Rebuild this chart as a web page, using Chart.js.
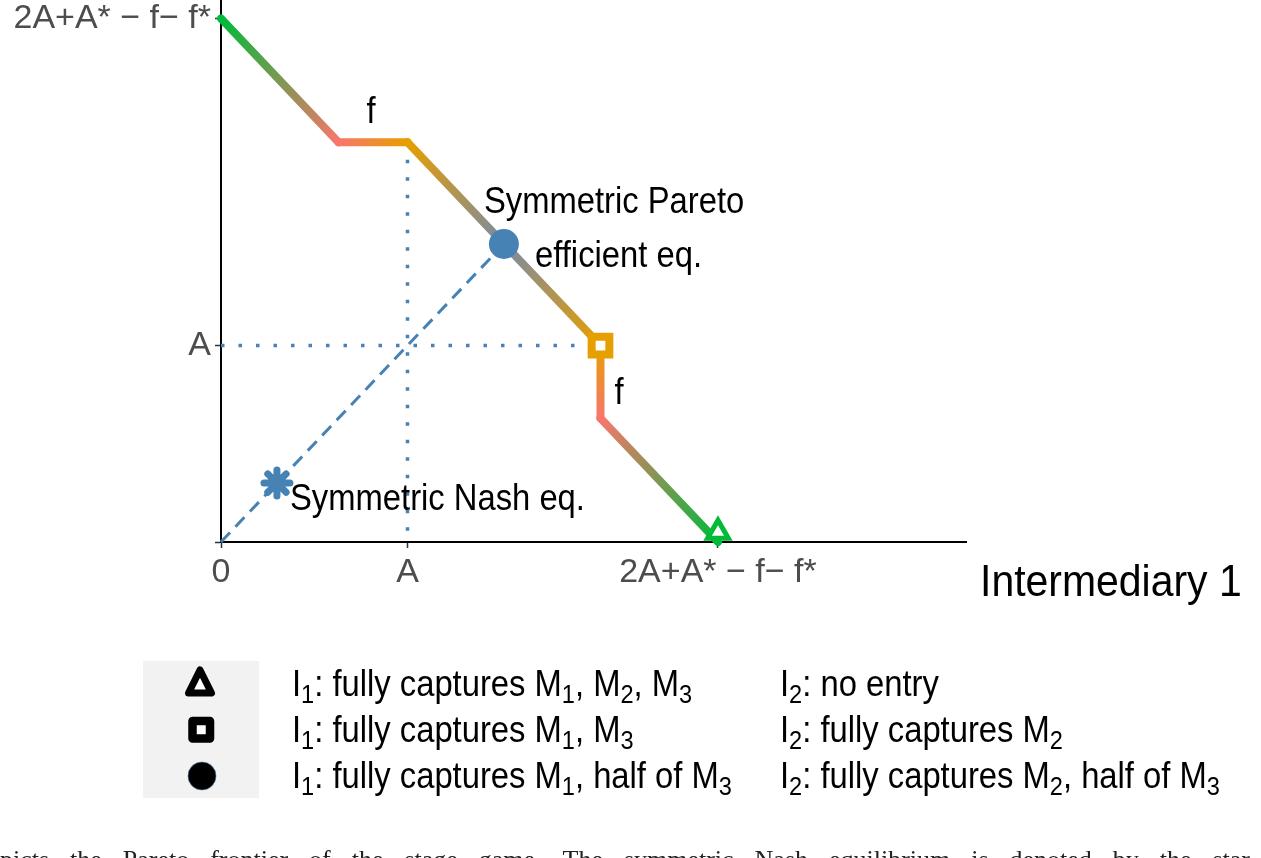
<!DOCTYPE html>
<html>
<head>
<meta charset="utf-8">
<script src="https://cdn.jsdelivr.net/npm/chart.js@4"></script>
<style>
  html, body { margin: 0; padding: 0; background: #fff; overflow: hidden; }
  canvas { display: block; }
</style>
</head>
<body>
<canvas id="chart" width="1261" height="858"></canvas>
<script>
// all values are in units of A
const frontierX = [0, 0.63, 1, 2.035, 2.035, 2.665];
const frontierY = [2.665, 2.035, 2.035, 1, 0.63, 0];
const paretoEq = [{ x: 1.517, y: 1.517 }];
const nashEq = [{ x: 0.30, y: 0.30 }];
const cornerSquare = [{ x: 2.035, y: 1 }];
const cornerTriangle = [{ x: 2.665, y: 0.05 }];
const guideVX = [1, 1];
const guideVY = [2.035, 0];
const guideHX = [0, 2.035];
const guideHY = [1, 1];
const diagX = [0, 1.517];
const diagY = [0, 1.517];
const xTickValues = [0, 1, 2.665];
const xTickLabels = ["0", "A", "2A+A* \u2212 f\u2212 f*"];
const yTickValues = [0, 1, 2.665];
const yTickLabels = ["", "A", "2A+A* \u2212 f\u2212 f*"];
const legendLeft = [
  "I_1: fully captures M_1, M_2, M_3",
  "I_1: fully captures M_1, M_3",
  "I_1: fully captures M_1, half of M_3"
];
const legendRight = [
  "I_2: no entry",
  "I_2: fully captures M_2",
  "I_2: fully captures M_2, half of M_3"
];
const captionText = "depicts the Pareto frontier of the stage game. The symmetric Nash equilibrium is denoted by the star";

// colour stops along each piece of the frontier
const segColors = [
  ["#00BA38", "#F8766D"],
  ["#F8766D", "#E69F00"],
  ["#E69F00", "#7A8AA6", "#E69F00"],
  ["#E69F00", "#F8766D"],
  ["#F8766D", "#00BA38"]
];

const FONT = "'Liberation Sans', Arial, Helvetica, sans-serif";
const SQ = 0.91; // text in the figure is a bit narrower than Arial
const BLUE = "#4682B4";

const zip = (xs, ys) => xs.map((x, i) => ({ x: x, y: ys[i] }));

const canvas = document.getElementById("chart");
const ctx = canvas.getContext("2d");

function squashText(c, str, x, y, size, color, align) {
  c.save();
  c.font = size + "px " + FONT;
  c.fillStyle = color || "#000";
  c.textBaseline = "alphabetic";
  let w = c.measureText(str).width * SQ;
  let left = align === "center" ? x - w / 2 : x;
  c.translate(left, y);
  c.scale(SQ, 1);
  c.textAlign = "left";
  c.fillText(str, 0, 0);
  c.restore();
  return w;
}

// text with _n subscripts
function richText(c, str, x, y, size) {
  let parts = str.split(/(_\d)/);
  let cx = x;
  parts.forEach(p => {
    if (!p) return;
    if (p[0] === "_") {
      cx += squashText(c, p.slice(1), cx, y + size * 0.2, size * 0.72);
    } else {
      cx += squashText(c, p, cx, y, size);
    }
  });
}

const notes = [
  { text: "f", x: 0.804, y: 2.2, align: "center" },
  { text: "f", x: 2.134, y: 0.766, align: "center" },
  { text: "Symmetric Pareto", x: 1.41, y: 1.742, align: "left" },
  { text: "efficient eq.", x: 1.684, y: 1.463, align: "left" },
  { text: "Symmetric Nash eq.", x: 0.37, y: 0.231, align: "left" }
];

const extras = {
  id: "extras",
  beforeDatasetDraw(chart, args) {
    // round ends for the star spokes
    if (args.index === 1) chart.ctx.lineCap = "round";
  },
  afterDatasetDraw(chart, args) {
    if (args.index === 1) chart.ctx.lineCap = "butt";
  },
  afterDraw(chart) {
    const c = chart.ctx;
    const xs = chart.scales.x, ys = chart.scales.y;
    const size = 36, cap = size * 0.716;

    notes.forEach(n => {
      squashText(c, n.text, xs.getPixelForValue(n.x), ys.getPixelForValue(n.y) + cap / 2, size, "#000", n.align);
    });

    // axis title sits to the right of the x axis
    squashText(c, "Intermediary 1", 980, 596, 45, "#000", "left");

    // legend box
    c.save();
    c.fillStyle = "#F2F2F2";
    c.fillRect(143, 661, 116, 137);
    c.lineJoin = "round";
    // triangle
    c.beginPath();
    c.moveTo(200, 670);
    c.lineTo(211.5, 693);
    c.lineTo(188.5, 693);
    c.closePath();
    c.fillStyle = "#fff";
    c.fill();
    c.strokeStyle = "#000";
    c.lineWidth = 7;
    c.stroke();
    // square
    c.beginPath();
    c.rect(192.5, 721, 17.5, 17.5);
    c.fillStyle = "#fff";
    c.fill();
    c.lineWidth = 8.5;
    c.stroke();
    // circle
    c.beginPath();
    c.arc(202, 776, 14, 0, Math.PI * 2);
    c.fillStyle = "#000";
    c.fill();
    c.lineWidth = 1;
    c.strokeStyle = "rgba(70,130,180,0.6)";
    c.stroke();
    c.restore();

    const rows = [696, 742, 788];
    rows.forEach((b, i) => {
      richText(c, legendLeft[i], 292, b, 36);
      richText(c, legendRight[i], 780, b, 36);
    });

    // caption line, cut off by the bottom of the page
    c.save();
    c.font = "26px 'Liberation Serif', 'DejaVu Serif', serif";
    c.fillStyle = "#222";
    c.textBaseline = "alphabetic";
    let words = captionText.split(" ");
    let start = -c.measureText("de").width;
    let total = words.reduce((s, w) => s + c.measureText(w).width, 0);
    let gap = (1250 - start - total) / (words.length - 1);
    let wx = start;
    words.forEach(w => {
      c.fillText(w, wx, 868);
      wx += c.measureText(w).width + gap;
    });
    c.restore();
  }
};

const tickFont = { family: FONT, size: 34 };

new Chart(ctx, {
  type: "scatter",
  data: {
    datasets: [
      {
        data: paretoEq, order: 0, clip: false,
        pointStyle: "circle", pointRadius: 15, pointBorderWidth: 0,
        pointBackgroundColor: BLUE
      },
      {
        data: nashEq, order: 0, clip: false,
        pointStyle: "star", pointRadius: 13, pointBorderWidth: 7,
        pointBorderColor: BLUE
      },
      {
        data: cornerSquare, order: 0, clip: false,
        pointStyle: "rect", pointRadius: 12.5, pointBorderWidth: 8,
        pointBorderColor: "#E69F00", pointBackgroundColor: "#fff"
      },
      {
        data: cornerTriangle, order: 0, clip: false,
        pointStyle: "triangle", pointRadius: 12, pointBorderWidth: 5,
        pointBorderColor: "#00BA38", pointBackgroundColor: "#fff"
      },
      {
        data: zip(frontierX, frontierY), order: 1, clip: false,
        showLine: true, pointRadius: 0, borderWidth: 8,
        borderColor: "#E69F00", borderCapStyle: "round", borderJoinStyle: "round",
        segment: {
          borderColor: s => {
            const g = ctx.createLinearGradient(s.p0.x, s.p0.y, s.p1.x, s.p1.y);
            const stops = segColors[s.p0DataIndex];
            stops.forEach((col, i) => g.addColorStop(i / (stops.length - 1), col));
            return g;
          }
        }
      },
      {
        data: zip(diagX, diagY), order: 2, clip: false,
        showLine: true, pointRadius: 0, borderWidth: 3,
        borderColor: BLUE, borderDash: [13, 8]
      },
      {
        data: zip(guideVX, guideVY), order: 2, clip: false,
        showLine: true, pointRadius: 0, borderWidth: 3.5,
        borderColor: BLUE, borderDash: [3.5, 14]
      },
      {
        data: zip(guideHX, guideHY), order: 2, clip: false,
        showLine: true, pointRadius: 0, borderWidth: 3.5,
        borderColor: BLUE, borderDash: [3.5, 14]
      }
    ]
  },
  options: {
    responsive: false,
    animation: false,
    events: [],
    layout: { autoPadding: false, padding: { left: 0, top: 0, right: 295, bottom: 0 } },
    plugins: { legend: { display: false }, tooltip: { enabled: false } },
    scales: {
      x: {
        type: "linear", min: 0, max: 3.995,
        afterBuildTicks: s => { s.ticks = xTickValues.map(v => ({ value: v })); },
        afterFit: s => { s.height = 316; s.paddingLeft = 0; s.paddingRight = 0; },
        ticks: {
          callback: (v, i) => xTickLabels[i],
          font: tickFont, color: "#4D4D4D", padding: 4,
          maxRotation: 0, autoSkip: false
        },
        grid: { drawOnChartArea: false, tickLength: 6, tickColor: "#333", tickWidth: 1.5 },
        border: { color: "#000", width: 2 }
      },
      y: {
        type: "linear", min: 0, max: 2.759,
        afterBuildTicks: s => { s.ticks = yTickValues.map(v => ({ value: v })); },
        afterFit: s => { s.width = 221; s.paddingTop = 0; s.paddingBottom = 0; },
        ticks: {
          callback: (v, i) => yTickLabels[i],
          font: tickFont, color: "#4D4D4D", padding: 4,
          autoSkip: false
        },
        grid: { drawOnChartArea: false, tickLength: 6, tickColor: "#333", tickWidth: 1.5 },
        border: { color: "#000", width: 2 }
      }
    }
  },
  plugins: [extras]
});
</script>
</body>
</html>
